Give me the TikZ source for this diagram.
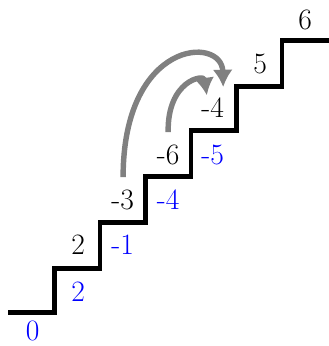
\documentclass[tikz,border=0pt]{standalone}
\usetikzlibrary{arrows.meta}

\begin{document}
\begin{tikzpicture}[
  stair/.style={line width=3pt, black},
  toplbl/.style={font=\fontsize{18.5}{22}\selectfont, text=black, inner sep=1pt},
  botlbl/.style={font=\fontsize{18.5}{22}\selectfont, text=blue, inner sep=1pt},
  jump/.style={-{Latex[length=3.8mm,width=4.4mm]}, line width=3.4pt, gray}
]
\useasboundingbox (-0.176,-0.732) rectangle (7.055,6.873);
\draw[stair] (0,0) -- (1.02,0) -- (1.02,0.98) -- (2.02,0.98) -- (2.02,1.99) -- (3.03,1.99) -- (3.03,3.0)
  -- (4.02,3.0) -- (4.02,4.01) -- (5.03,4.01) -- (5.03,4.98) -- (6.02,4.98) -- (6.02,5.99) -- (7.1,5.99);
\node[botlbl] (b0) at (0.54,-0.41) {0};
\node[botlbl] (b1) at (1.54,0.47) {2};
\node[botlbl] (b2) at (2.52,1.49) {-1};
\node[botlbl] (b3) at (3.52,2.48) {-4};
\node[botlbl] (b4) at (4.5,3.47) {-5};
\node[toplbl] (t1) at (1.54,1.49) {2};
\node[toplbl] (t2) at (2.52,2.48) {-3};
\node[toplbl] (t3) at (3.52,3.47) {-6};
\node[toplbl] (t4) at (4.5,4.5) {-4};
\node[toplbl] (t5) at (5.54,5.47) {5};
\node[toplbl] (t6) at (6.53,6.43) {6};
\coordinate (j1a) at (2.53,2.98);
\coordinate (j1b) at (4.73,4.96);
\coordinate (j2a) at (3.52,3.97);
\coordinate (j2b) at (4.37,4.78);
\draw[jump] (j1a) .. controls (2.53,6.0) and (4.7,6.1) .. (j1b);
\draw[jump] (j2a) .. controls (3.5,5.1) and (4.3,5.25) .. (j2b);
\end{tikzpicture}
\end{document}
